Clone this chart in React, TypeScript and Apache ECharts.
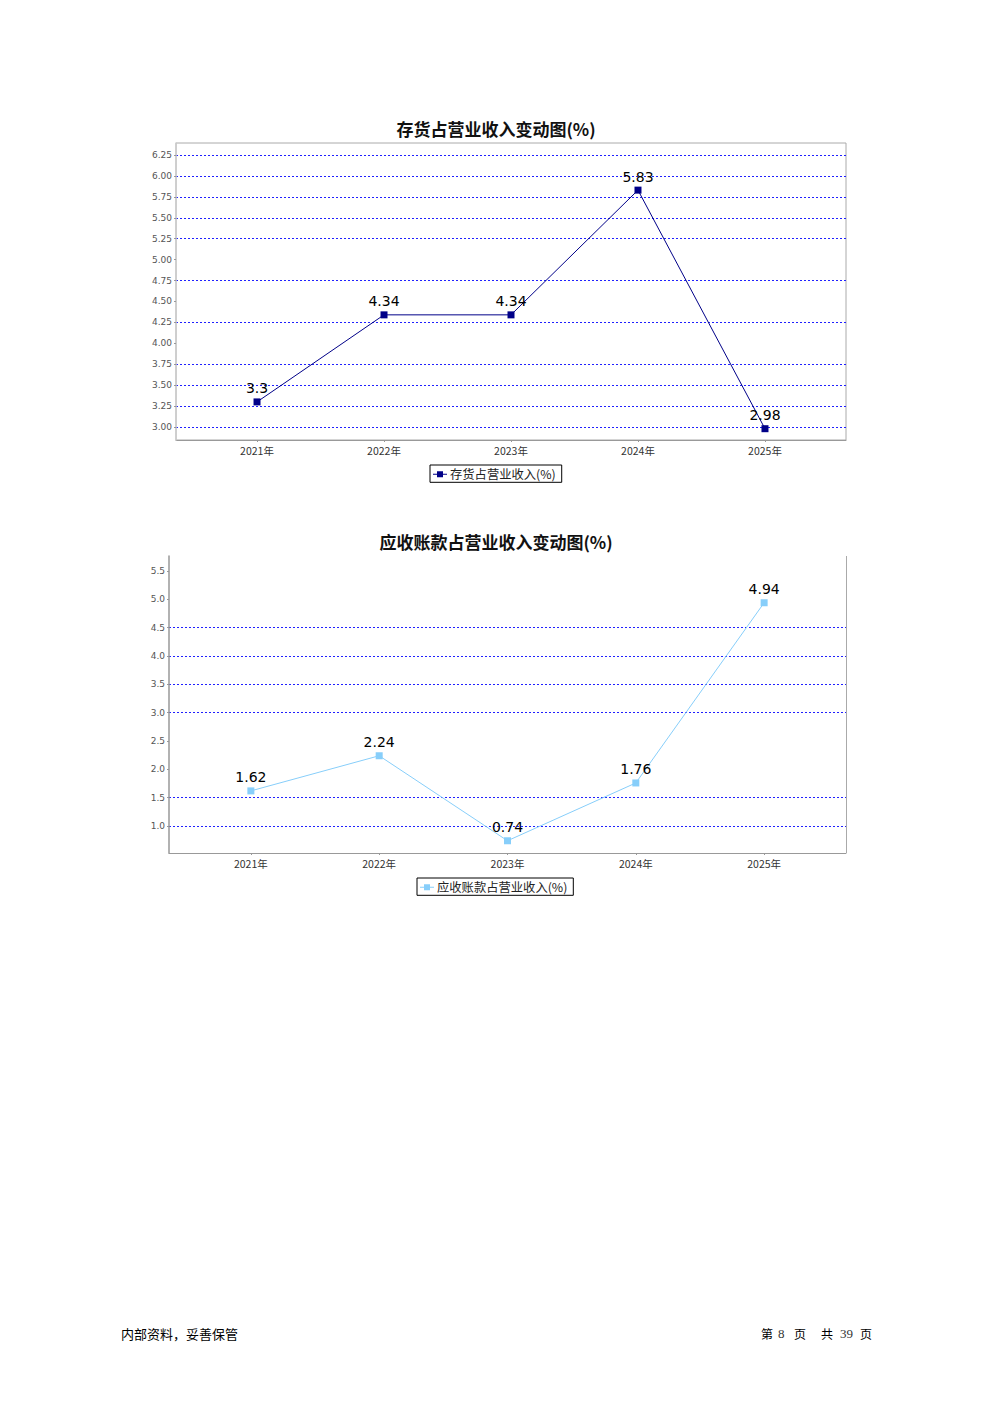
import React, { useEffect, useRef } from "react";
import * as echarts from "echarts";

const CATEGORIES = ["2021年", "2022年", "2023年", "2024年", "2025年"];
const CAT_INDEX = [0, 1, 2, 3, 4];

const TITLE_1 = "存货占营业收入变动图(%)";
const SERIES_1 = "存货占营业收入(%)";
const INVENTORY = [3.3, 4.34, 4.34, 5.83, 2.98];
const Y_TICKS_1 = [3.0, 3.25, 3.5, 3.75, 4.0, 4.25, 4.5, 4.75, 5.0, 5.25, 5.5, 5.75, 6.0, 6.25];
const GRID_LINES_1 = [3.0, 3.25, 3.5, 3.75, 4.25, 4.75, 5.25, 5.5, 5.75, 6.0, 6.25];

const TITLE_2 = "应收账款占营业收入变动图(%)";
const SERIES_2 = "应收账款占营业收入(%)";
const RECEIVABLE = [1.62, 2.24, 0.74, 1.76, 4.94];
const Y_TICKS_2 = [1.0, 1.5, 2.0, 2.5, 3.0, 3.5, 4.0, 4.5, 5.0, 5.5];
const GRID_LINES_2 = [1.0, 1.5, 3.0, 3.5, 4.0, 4.5];

const FOOTER_LEFT = "内部资料，妥善保管";
const FOOTER_RIGHT = ["第", "8", "页", "共", "39", "页"];

const FONT = "DejaVu Sans, Noto Sans CJK SC, sans-serif";
const CJK = "Noto Sans CJK SC, DejaVu Sans, sans-serif";
const SERIF = "Liberation Serif, DejaVu Serif, serif";
const LEGEND_ICON = "path://M0,3.5L14,3.5L14,4.5L0,4.5Z M4,1L10,1L10,7L4,7Z";

function xAxisCfg(gridIndex: number) {
  return {
    type: "value" as const,
    gridIndex,
    min: -0.638,
    max: 4.638,
    axisLine: { show: true, onZero: false, lineStyle: { color: "#999", width: 1 } },
    axisTick: { show: true, length: 2, customValues: CAT_INDEX, lineStyle: { color: "#999" } },
    axisLabel: {
      customValues: CAT_INDEX,
      formatter: (v: number) => CATEGORIES[Math.round(v)] ?? "",
      fontSize: 10.5,
      color: "#333",
      fontFamily: CJK,
      margin: 5,
    },
    splitLine: { show: false },
  };
}

function yAxisCfg(gridIndex: number, min: number, max: number, ticks: number[], digits: number, axisColor: string) {
  return {
    type: "value" as const,
    gridIndex,
    min,
    max,
    z: 3,
    axisLine: { show: true, onZero: false, lineStyle: { color: axisColor, width: 1.5 } },
    axisTick: { show: true, length: 2, customValues: ticks, lineStyle: { color: "#999" } },
    axisLabel: {
      customValues: ticks,
      formatter: (v: number) => v.toFixed(digits),
      fontSize: 9,
      color: "#555",
      fontFamily: FONT,
      margin: 4,
    },
    splitLine: { show: false },
  };
}

// hidden companion axis that only draws the dashed grid lines
function gridAxisCfg(gridIndex: number, min: number, max: number, lines: number[]) {
  return {
    type: "value" as const,
    gridIndex,
    min,
    max,
    position: "left" as const,
    z: 1,
    axisLine: { show: false, onZero: false },
    axisTick: { show: false, customValues: lines },
    axisLabel: { show: false, customValues: lines },
    splitLine: { show: true, lineStyle: { color: "#2020ff", type: [2, 2], width: 1 } },
  };
}

function mainSeries(idx: number, name: string, values: number[], color: string) {
  return {
    type: "line" as const,
    name,
    xAxisIndex: idx,
    yAxisIndex: idx,
    data: values.map((v, i) => [i, v]),
    z: 3,
    symbol: "rect",
    symbolSize: 7,
    showAllSymbol: true,
    itemStyle: { color },
    lineStyle: { color, width: 1 },
    label: {
      show: true,
      position: "top",
      distance: 3,
      fontSize: 14,
      color: "#000",
      fontFamily: FONT,
      formatter: (p: any) => String(p.value[1]),
    },
  };
}

function legendCfg(name: string, left: number, top: number) {
  return {
    data: [name],
    left,
    top,
    padding: [3, 6, 2, 3],
    borderColor: "#000",
    borderWidth: 1,
    itemWidth: 14,
    itemHeight: 6,
    itemGap: 4,
    icon: LEGEND_ICON,
    textStyle: { fontSize: 12.3, color: "#222", fontFamily: CJK, padding: [0, 0, 0, -2] },
  };
}

export default function App() {
  const ref = useRef<HTMLDivElement>(null);
  useEffect(() => {
    if (!ref.current) return;
    const chart = echarts.init(ref.current, null, { renderer: "svg" });
    const rightX = [761, 778, 794, 821, 840, 860];
    chart.setOption({
      animation: false,
      backgroundColor: "#fff",
      title: [
        {
          text: TITLE_1,
          left: "center",
          top: 120,
          padding: 0,
          textStyle: { fontSize: 17, fontWeight: "bold", color: "#111", fontFamily: CJK },
        },
        {
          text: TITLE_2,
          left: "center",
          top: 533,
          padding: 0,
          textStyle: { fontSize: 17, fontWeight: "bold", color: "#111", fontFamily: CJK },
        },
      ],
      legend: [legendCfg(SERIES_1, 430, 465), legendCfg(SERIES_2, 417, 878)],
      grid: [
        { left: 176, top: 143, width: 670, height: 297, show: true, borderColor: "#aaa", borderWidth: 1, backgroundColor: "transparent" },
        { left: 169, top: 556, width: 677, height: 297, show: false },
      ],
      xAxis: [xAxisCfg(0), xAxisCfg(1)],
      yAxis: [
        yAxisCfg(0, 2.845, 6.393, Y_TICKS_1, 2, "#ccc"),
        yAxisCfg(1, 0.524, 5.765, Y_TICKS_2, 1, "#999"),
        gridAxisCfg(0, 2.845, 6.393, GRID_LINES_1),
        gridAxisCfg(1, 0.524, 5.765, GRID_LINES_2),
      ],
      series: [
        mainSeries(0, SERIES_1, INVENTORY, "#000088"),
        mainSeries(1, SERIES_2, RECEIVABLE, "#87CEFA"),
      ],
      graphic: [
        { type: "line", shape: { x1: 846.5, y1: 556, x2: 846.5, y2: 853 }, style: { stroke: "#aaa", lineWidth: 1 } },
        {
          type: "text",
          x: 121,
          y: 1333,
          style: { text: FOOTER_LEFT, fontSize: 13, fill: "#000", fontFamily: CJK, verticalAlign: "middle" },
        },
        ...FOOTER_RIGHT.map((t, i) => ({
          type: "text",
          x: rightX[i],
          y: 1333,
          style: {
            text: t,
            fontSize: /\d/.test(t) ? 13 : 12,
            fill: /\d/.test(t) ? "#333" : "#000",
            fontFamily: /\d/.test(t) ? SERIF : CJK,
            verticalAlign: "middle",
          },
        })),
      ],
    });
    return () => chart.dispose();
  }, []);
  return <div ref={ref} style={{ position: "absolute", left: 0, top: 0, width: 992, height: 1403 }} />;
}
